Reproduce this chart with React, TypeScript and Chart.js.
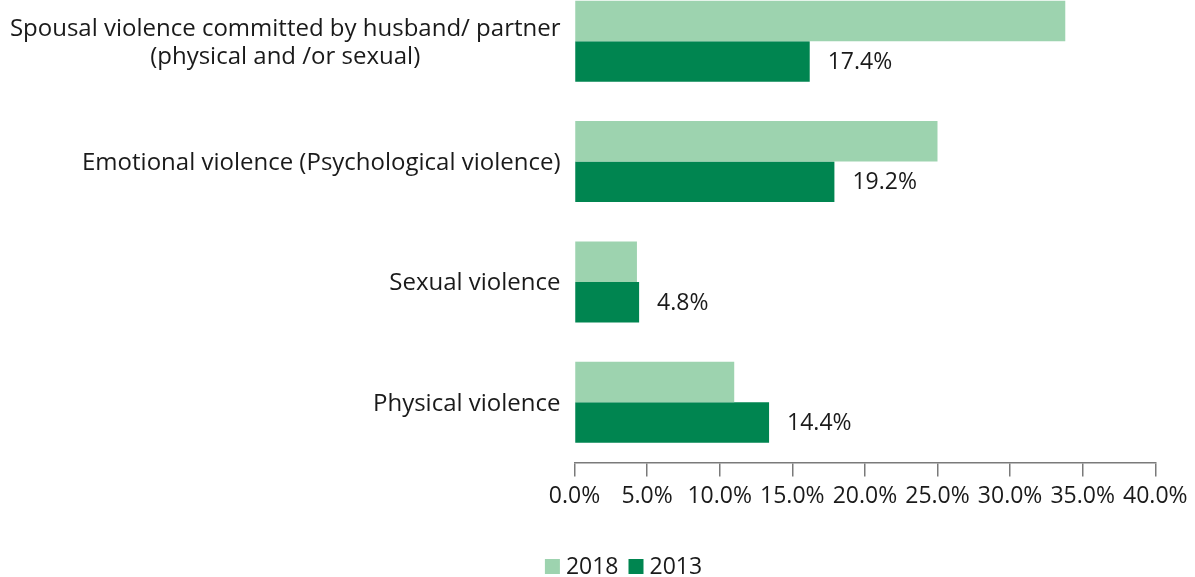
import React, { useEffect, useRef } from "react";
import { Chart, registerables } from "chart.js";

Chart.register(...registerables);

const categories: string[][] = [
  ["Spousal violence committed by husband/ partner", "(physical and /or sexual)"],
  ["Emotional violence (Psychological violence)"],
  ["Sexual violence"],
  ["Physical violence"],
];
const series2018: number[] = [33.8, 25.0, 4.3, 11.0];
const series2013: number[] = [16.2, 17.9, 4.45, 13.4];
const labels2013: string[] = ["17.4%", "19.2%", "4.8%", "14.4%"];
const seriesNames: string[] = ["2018", "2013"];
const xMin = 0;
const xMax = 40;
const xStep = 5;

const LIGHT = "#9dd3af";
const DARK = "#008550";
const FONT = "'Open Sans', sans-serif";
const TEXT = "#1a1a1a";
const FS_CAT = 24;
const FS = 23;

const customPlugin = {
  id: "custom",
  afterDraw(chart: any) {
    const ctx = chart.ctx;
    const yScale = chart.scales.y;
    ctx.save();
    ctx.fillStyle = TEXT;
    ctx.textBaseline = "middle";
    // category labels
    ctx.font = `${FS_CAT}px ${FONT}`;
    const rightEdge = chart.chartArea.left - 14;
    const lh = 28;
    categories.forEach((lines, i) => {
      const cy = yScale.getPixelForValue(i) + 1.5;
      const widths = lines.map((l) => ctx.measureText(l).width);
      const maxW = Math.max(...widths);
      const startY = cy - ((lines.length - 1) * lh) / 2;
      lines.forEach((l, j) => {
        if (lines.length > 1) {
          ctx.textAlign = "center";
          ctx.fillText(l, rightEdge - maxW / 2, startY + j * lh);
        } else {
          ctx.textAlign = "right";
          ctx.fillText(l, rightEdge, startY + j * lh);
        }
      });
    });
    // data labels for 2013
    ctx.font = `${FS}px ${FONT}`;
    const meta = chart.getDatasetMeta(1);
    ctx.textAlign = "left";
    meta.data.forEach((bar: any, i: number) => {
      ctx.fillText(labels2013[i], bar.x + 18, bar.y + 1);
    });
    // legend
    const box = 15;
    const gapBoxText = 6;
    const gapItems = 10;
    const items = chart.data.datasets.map((d: any) => ({
      text: d.label,
      color: d.backgroundColor,
      w: box + gapBoxText + ctx.measureText(d.label).width,
    }));
    const total = items.reduce((s: number, it: any) => s + it.w, 0) + gapItems * (items.length - 1);
    let x = 623.5 - total / 2;
    const ly = chart.height - 10.5;
    items.forEach((it: any) => {
      ctx.fillStyle = it.color;
      ctx.fillRect(x, ly - box / 2, box, box);
      ctx.fillStyle = TEXT;
      ctx.textAlign = "left";
      ctx.fillText(it.text, x + box + gapBoxText, ly + 1);
      x += it.w + gapItems;
    });
    ctx.restore();
  },
};

export default function App() {
  const ref = useRef<HTMLCanvasElement | null>(null);
  useEffect(() => {
    if (!ref.current) return;
    const chart = new Chart(ref.current, {
      type: "bar",
      data: {
        labels: categories.map((c) => c.join(" ")),
        datasets: [
          {
            label: seriesNames[0],
            data: series2018,
            backgroundColor: LIGHT,
            categoryPercentage: 0.672,
            barPercentage: 1,
          },
          {
            label: seriesNames[1],
            data: series2013,
            backgroundColor: DARK,
            categoryPercentage: 0.672,
            barPercentage: 1,
          },
        ],
      },
      options: {
        indexAxis: "y",
        animation: false,
        responsive: false,
        maintainAspectRatio: false,
        layout: { padding: { left: 574.5, right: 39.7, top: 0, bottom: 0 } },
        plugins: { legend: { display: false }, tooltip: { enabled: false } },
        scales: {
          x: {
            min: xMin,
            max: xMax,
            ticks: {
              stepSize: xStep,
              color: TEXT,
              font: { family: FONT, size: FS },
              padding: 6,
              maxRotation: 0,
              autoSkip: false,
              callback: (v: any) => Number(v).toFixed(1) + "%",
            },
            grid: {
              display: true,
              drawOnChartArea: false,
              drawTicks: true,
              tickLength: 14,
              color: "#7a7a7a",
              lineWidth: 1.5,
            },
            border: { display: true, color: "#7a7a7a", width: 1.5 },
            afterFit: (s: any) => {
              s.height = 114.5;
            },
          },
          y: {
            ticks: { display: false },
            grid: { display: false },
            border: { display: false },
            afterFit: (s: any) => {
              s.width = 0;
            },
          },
        },
      },
      plugins: [customPlugin],
    });
    return () => chart.destroy();
  }, []);
  return (
    <div style={{ position: "fixed", left: 0, top: -19, width: 1195, height: 596 }}>
      <canvas ref={ref} width={1195} height={596} style={{ display: "block" }} />
    </div>
  );
}
